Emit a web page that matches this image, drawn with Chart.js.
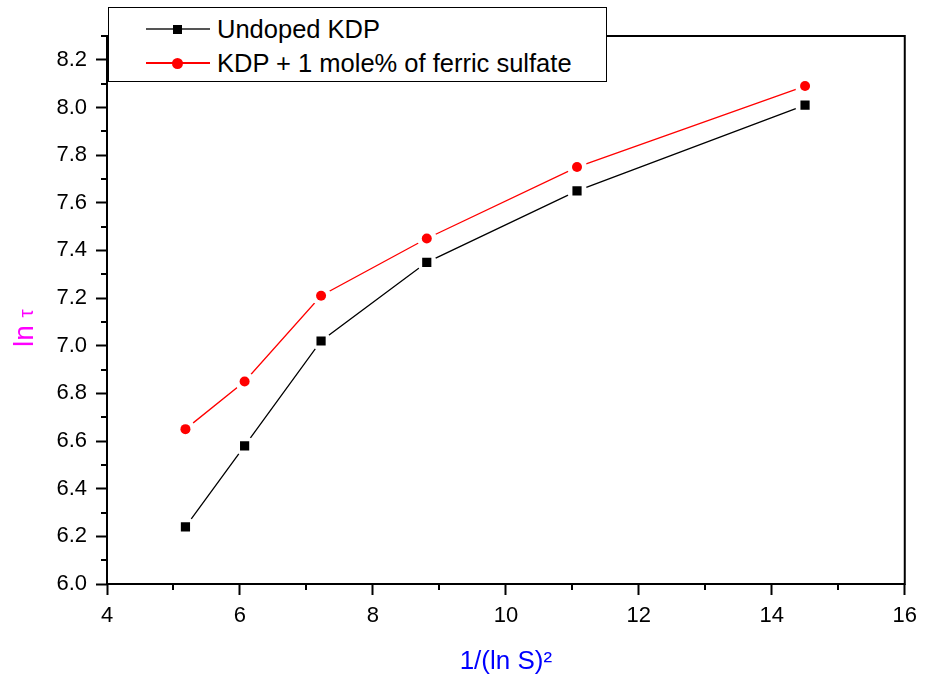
<!DOCTYPE html>
<html>
<head>
<meta charset="utf-8">
<script src="https://cdn.jsdelivr.net/npm/chart.js@4/dist/chart.umd.min.js"></script>
<style>
  body { margin: 0; background: #fff; }
  #wrap { position: relative; width: 925px; height: 682px; }
  #legend {
    position: absolute; left: 108px; top: 7px; width: 497px; height: 73px;
    border: 1.5px solid #000; background: #fff;
    font-family: "Liberation Sans", Arial, sans-serif; font-size: 25.5px; color: #000;
  }
  .row { position: absolute; left: 0; width: 100%; height: 30px; line-height: 30px; white-space: nowrap; }
  .seg { position: absolute; left: 37px; top: 14px; width: 64px; height: 1.5px; }
  .mk { position: absolute; }
  .txt { position: absolute; left: 108px; top: 0; }
</style>
</head>
<body>
<div id="wrap">
  <canvas id="chart" width="925" height="682"></canvas>
  <div id="legend"></div>
</div>
<script>
const invS = [5.18, 6.07, 7.22, 8.81, 11.07, 14.50];
const undoped = [6.24, 6.58, 7.02, 7.35, 7.65, 8.01];
const doped = [6.65, 6.85, 7.21, 7.45, 7.75, 8.09];
const seriesNames = ['Undoped KDP', 'KDP + 1 mole% of ferric sulfate'];
const xTicks = [4, 6, 8, 10, 12, 14, 16];
const yTicks = [6.0, 6.2, 6.4, 6.6, 6.8, 7.0, 7.2, 7.4, 7.6, 7.8, 8.0, 8.2];

const pts = ys => ys.map((y, i) => ({ x: invS[i], y: y }));
const font = '"Liberation Sans", Arial, sans-serif';

const series = [
  { label: seriesNames[0], data: undoped, color: '#000000', style: 'rect', r: 6.5 },
  { label: seriesNames[1], data: doped, color: '#ff0000', style: 'circle', r: 5 }
];

// markers first (drawn on top), then the lines
const markSets = series.map(s => ({
  label: s.label, data: pts(s.data), showLine: false, pointStyle: s.style,
  pointRadius: s.r, pointBackgroundColor: s.color, pointBorderColor: s.color,
  pointBorderWidth: 0
}));
const lineSets = series.map(s => ({
  label: s.label + ' line', data: pts(s.data), showLine: true, isLine: true,
  borderColor: s.color, borderWidth: 1.3, pointRadius: 0
}));

// cut the line short around every point, the way the original plot does
const lineGaps = {
  id: 'lineGaps',
  afterDatasetDraw(chart, args) {
    const ds = chart.data.datasets[args.index];
    if (!ds.isLine) return;
    const ctx = chart.ctx;
    ctx.save();
    ctx.fillStyle = '#ffffff';
    args.meta.data.forEach(el => {
      ctx.beginPath();
      ctx.arc(el.x, el.y, 10, 0, Math.PI * 2);
      ctx.fill();
    });
    ctx.restore();
  }
};

const frameAndMinor = {
  id: 'frameAndMinor',
  afterDraw(chart) {
    const ctx = chart.ctx;
    const a = chart.chartArea;
    const xs = chart.scales.x, ys = chart.scales.y;
    ctx.save();
    ctx.strokeStyle = '#000';
    ctx.lineWidth = 2;
    ctx.strokeRect(a.left, a.top, a.right - a.left, a.bottom - a.top);
    ctx.beginPath();
    for (let i = 0; i < xTicks.length - 1; i++) {
      const px = Math.round(xs.getPixelForValue((xTicks[i] + xTicks[i + 1]) / 2));
      ctx.moveTo(px, a.bottom);
      ctx.lineTo(px, a.bottom + 6);
    }
    for (let i = 0; i < yTicks.length; i++) {
      const py = Math.round(ys.getPixelForValue(yTicks[i] + 0.1));
      ctx.moveTo(a.left - 6, py);
      ctx.lineTo(a.left, py);
    }
    ctx.stroke();

    // y title "ln τ", with a smaller tau, sitting a little below the middle
    ctx.translate(33, 347);
    ctx.rotate(-Math.PI / 2);
    ctx.fillStyle = '#ff00ff';
    ctx.textBaseline = 'alphabetic';
    ctx.textAlign = 'left';
    ctx.font = '28px ' + font;
    ctx.fillText('ln', 0, 0);
    const w = ctx.measureText('ln ').width;
    ctx.font = '21px ' + font;
    ctx.fillText('τ', w, 0);
    ctx.restore();
  }
};

new Chart(document.getElementById('chart'), {
  type: 'scatter',
  data: { datasets: markSets.concat(lineSets) },
  options: {
    responsive: false,
    animation: false,
    layout: { padding: { top: 36, right: 17, left: 0, bottom: 0 } },
    plugins: { legend: { display: false }, tooltip: { enabled: false } },
    scales: {
      x: {
        type: 'linear', min: 4, max: 16,
        afterFit: s => { s.height = 98; },
        afterBuildTicks: s => { s.ticks = xTicks.map(v => ({ value: v })); },
        ticks: { color: '#000', font: { family: font, size: 22 }, padding: 8, maxRotation: 0 },
        grid: { drawOnChartArea: false, tickLength: 11, tickColor: '#000', tickWidth: 2 },
        border: { display: false },
        title: { display: true, text: '1/(ln S)²', color: '#0000ff',
          font: { family: font, size: 26 }, padding: { top: 4, bottom: 5 } }
      },
      y: {
        type: 'linear', min: 6.0, max: 8.3,
        afterFit: s => { s.width = 107; },
        afterBuildTicks: s => { s.ticks = yTicks.map(v => ({ value: v })); },
        ticks: { color: '#000', font: { family: font, size: 22 }, padding: 9,
          callback: v => Number(v).toFixed(1) },
        grid: { drawOnChartArea: false, tickLength: 11, tickColor: '#000', tickWidth: 2 },
        border: { display: false }
      }
    }
  },
  plugins: [lineGaps, frameAndMinor]
});

// legend box, drawn as html with the same names and colours
const legend = document.getElementById('legend');
series.forEach((s, i) => {
  const row = document.createElement('div');
  row.className = 'row';
  row.style.top = (6 + i * 34) + 'px';
  const seg = document.createElement('div');
  seg.className = 'seg';
  seg.style.background = i === 0 ? '#555' : s.color;
  const mk = document.createElement('div');
  mk.className = 'mk';
  const size = i === 0 ? 9 : 11;
  mk.style.width = size + 'px';
  mk.style.height = size + 'px';
  mk.style.left = (68 - size / 2) + 'px';
  mk.style.top = (15 - size / 2) + 'px';
  mk.style.background = s.color;
  if (s.style === 'circle') mk.style.borderRadius = '50%';
  const txt = document.createElement('div');
  txt.className = 'txt';
  txt.textContent = s.label;
  row.appendChild(seg);
  row.appendChild(mk);
  row.appendChild(txt);
  legend.appendChild(row);
});
</script>
</body>
</html>
